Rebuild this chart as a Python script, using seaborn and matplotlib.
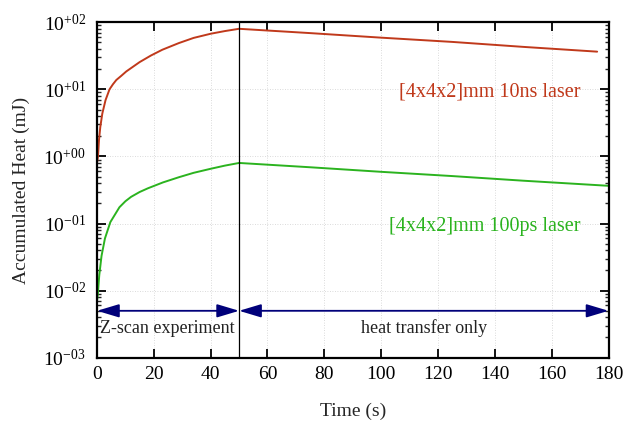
import matplotlib
matplotlib.use("Agg")
import matplotlib.pyplot as plt
import matplotlib.ticker as mticker
import numpy as np
import pandas as pd
import seaborn as sns

# Accumulated heat of the 10 ns laser run (Z-scan phase then cooling)
t_ns = [0, 0.35, 0.7, 1.16, 1.87, 3.0, 4.4, 5.6, 6.8, 8.6, 10.3, 15, 19, 23, 28.8, 34,
        40, 45, 50, 75, 100, 125, 150, 176]
heat_ns = [0.8, 1.0, 1.75, 2.75, 4.36, 6.9, 10, 11.9, 13.8, 16, 18.5, 25.5, 32, 39, 49,
           58.5, 67.5, 74, 80, 69, 59, 51, 43, 36.5]

# Accumulated heat of the 100 ps laser run
t_ps = [0, 0.3, 0.8, 1.6, 2.8, 4.7, 7.9, 10, 12, 15, 17.9, 23.2, 28.8, 34, 40, 45, 50,
        75, 100, 125, 150, 180]
heat_ps = [0.007, 0.009, 0.017, 0.033, 0.060, 0.105, 0.175, 0.215, 0.25, 0.295, 0.335,
           0.41, 0.49, 0.57, 0.655, 0.73, 0.80, 0.69, 0.59, 0.51, 0.435, 0.365]

label_ns = "[4x4x2]mm 10ns laser"
label_ps = "[4x4x2]mm 100ps laser"
phase_labels = ["Z-scan experiment", "heat transfer only"]
phase_bounds = [0, 50, 180]
arrow_level = 5e-3

x_ticks = [0, 20, 40, 60, 80, 100, 120, 140, 160, 180]
y_exponents = [-3, -2, -1, 0, 1, 2]

RED = "#c0391b"
GREEN = "#2bb31f"
NAVY = "#00007a"

sns.set_theme(style="ticks")
plt.rcParams["font.family"] = ["Liberation Serif", "DejaVu Serif"]
plt.rcParams["mathtext.fontset"] = "custom"
plt.rcParams["mathtext.rm"] = "Liberation Serif"
plt.rcParams["mathtext.it"] = "Liberation Serif:italic"
plt.rcParams["mathtext.bf"] = "Liberation Serif:bold"

fig = plt.figure(figsize=(6.27, 4.23), dpi=100)
ax = fig.add_axes([0.1547, 0.1544, 0.9705 - 0.1547, 0.9473 - 0.1544])

df_ns = pd.DataFrame({"t": t_ns, "q": heat_ns})
df_ps = pd.DataFrame({"t": t_ps, "q": heat_ps})
sns.lineplot(data=df_ns, x="t", y="q", color=RED, lw=1.4, ax=ax, sort=False)
sns.lineplot(data=df_ps, x="t", y="q", color=GREEN, lw=1.4, ax=ax, sort=False)

ax.set_yscale("log")
ax.set_xlim(0, 180)
ax.set_ylim(1e-3, 1e2)

# phase separator
ax.axvline(phase_bounds[1], color="black", lw=0.9, zorder=3)

# double-headed arrows for the two phases
for a, b in zip(phase_bounds[:-1], phase_bounds[1:]):
    ax.annotate("", xy=(b, arrow_level), xytext=(a, arrow_level),
                arrowprops=dict(arrowstyle="<|-|>,head_length=0.9,head_width=0.27",
                                color=NAVY, lw=1.3, shrinkA=0, shrinkB=0,
                                mutation_scale=15), zorder=4)

ax.text(1.2, 2.3e-3, phase_labels[0], fontsize=13, color="#222222",
        ha="left", va="baseline")
ax.text(115, 2.3e-3, phase_labels[1], fontsize=13, color="#222222",
        ha="center", va="baseline")

ax.text(170, 7.7, label_ns, fontsize=14.5, color=RED, ha="right", va="baseline")
ax.text(170, 0.077, label_ps, fontsize=14.5, color=GREEN, ha="right", va="baseline")

# grid and ticks
ax.grid(True, which="major", color="#cfcfcf", lw=0.6, ls=(0, (1, 2)))
ax.set_xticks(x_ticks)
ax.set_xticklabels([str(v) for v in x_ticks])
ax.yaxis.set_major_locator(mticker.FixedLocator([10.0 ** e for e in y_exponents]))
ax.yaxis.set_major_formatter(mticker.FixedFormatter(
    [r"$10^{%s%02d}$" % ("+" if e >= 0 else "-", abs(e)) for e in y_exponents]))
ax.yaxis.set_minor_locator(mticker.LogLocator(base=10, subs=np.arange(2, 10), numticks=20))
ax.yaxis.set_minor_formatter(mticker.NullFormatter())

ax.tick_params(axis="both", which="major", direction="in", length=6.5, width=1.3,
               top=True, right=True, labelsize=14, colors="black")
ax.tick_params(axis="y", which="minor", direction="in", length=3.2, width=1.0,
               left=True, right=True)
ax.tick_params(axis="x", which="major", pad=6)
ax.tick_params(axis="y", which="major", pad=8)

for s in ax.spines.values():
    s.set_linewidth(1.6)
    s.set_color("black")
    s.set_visible(True)

ax.set_xlabel("Time (s)", fontsize=14, labelpad=14)
ax.set_ylabel("Accumulated Heat (mJ)", fontsize=14, labelpad=10)

fig.savefig("out.png", dpi=100)
